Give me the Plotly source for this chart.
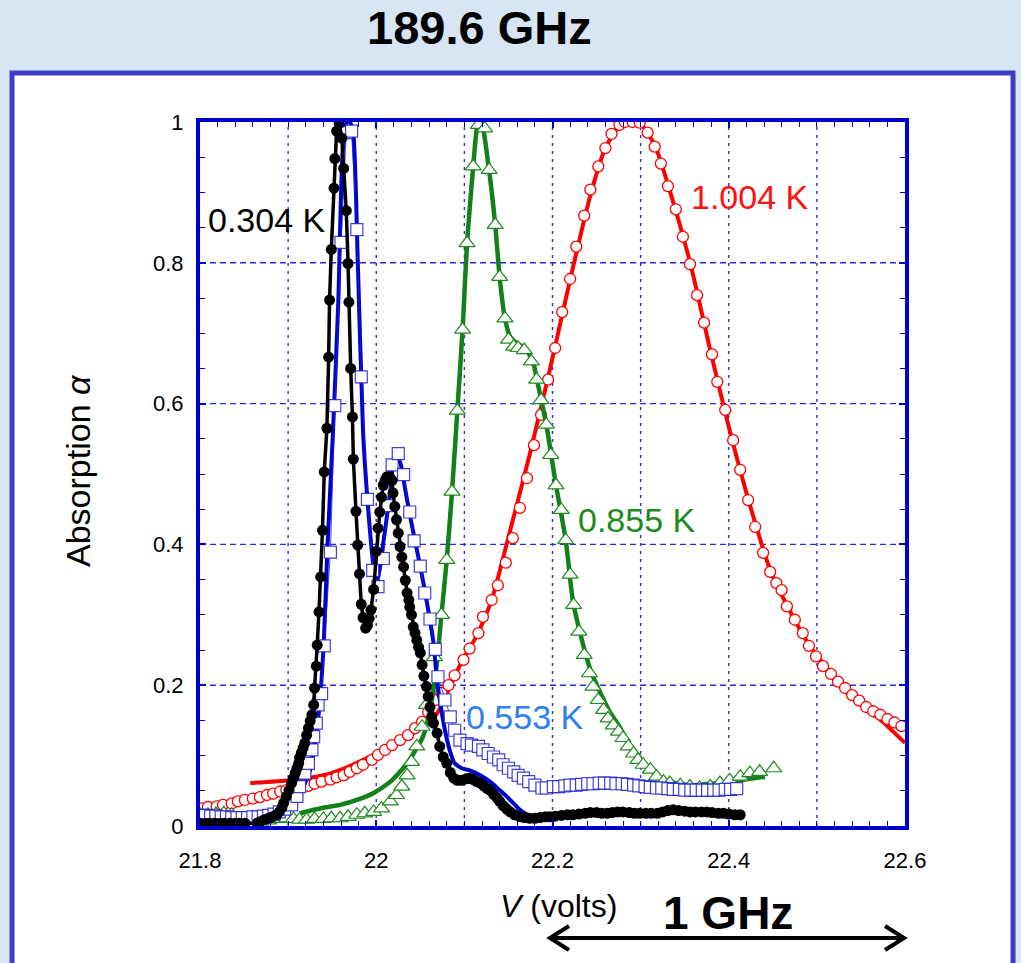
import plotly.graph_objects as go

# ---------------- data (V in volts, alpha) ----------------
# 0.304 K (black, filled circles)
black_v = [21.800, 21.806, 21.811, 21.817, 21.823, 21.828, 21.834, 21.840, 21.845, 21.851,
           21.865, 21.868, 21.873, 21.878, 21.882, 21.887, 21.890, 21.893, 21.895, 21.898,
           21.901, 21.904, 21.906, 21.908, 21.910, 21.912, 21.913, 21.915, 21.917, 21.919,
           21.921, 21.923, 21.925, 21.927, 21.929, 21.930, 21.932, 21.933, 21.935, 21.937,
           21.939, 21.941, 21.944, 21.946, 21.947, 21.949, 21.952, 21.953, 21.955, 21.958,
           21.961, 21.963, 21.966, 21.968, 21.969, 21.971, 21.973, 21.974, 21.977, 21.979,
           21.981, 21.983, 21.985, 21.988, 21.990, 21.992, 21.994, 21.997, 22.000, 22.002,
           22.004, 22.006, 22.008, 22.010, 22.012, 22.015, 22.018, 22.019, 22.021, 22.023,
           22.025, 22.027, 22.029, 22.031, 22.033, 22.035, 22.037, 22.038, 22.040, 22.042,
           22.044, 22.046, 22.048, 22.050, 22.052, 22.054, 22.057, 22.059, 22.061, 22.063,
           22.065, 22.069, 22.072, 22.076, 22.080, 22.084, 22.088, 22.092, 22.097, 22.102,
           22.106, 22.110, 22.114, 22.118, 22.122, 22.126, 22.129, 22.133, 22.137, 22.140,
           22.144, 22.148, 22.152, 22.157, 22.163, 22.168, 22.174, 22.180, 22.186, 22.192,
           22.197, 22.203, 22.210, 22.217, 22.223, 22.230, 22.237, 22.243, 22.250, 22.256,
           22.262, 22.268, 22.274, 22.280, 22.287, 22.293, 22.299, 22.306, 22.312, 22.319,
           22.325, 22.331, 22.337, 22.343, 22.350, 22.356, 22.362, 22.369, 22.375, 22.381,
           22.388, 22.394, 22.400, 22.407, 22.413]
black_a = [0.004, 0.004, 0.004, 0.004, 0.004, 0.004, 0.004, 0.004, 0.004, 0.004,
           0.004, 0.006, 0.009, 0.011, 0.013, 0.016, 0.020, 0.026, 0.033, 0.042,
           0.051, 0.061, 0.068, 0.075, 0.082, 0.089, 0.097, 0.104, 0.111, 0.118,
           0.129, 0.139, 0.149, 0.158, 0.172, 0.196, 0.227, 0.257, 0.304, 0.354,
           0.420, 0.503, 0.565, 0.666, 0.747, 0.819, 0.906, 0.948, 0.987, 0.998,
           0.977, 0.934, 0.874, 0.799, 0.744, 0.650, 0.581, 0.521, 0.447, 0.399,
           0.358, 0.315, 0.296, 0.281, 0.285, 0.295, 0.307, 0.336, 0.390, 0.423,
           0.446, 0.467, 0.484, 0.491, 0.496, 0.496, 0.491, 0.473, 0.454, 0.435,
           0.416, 0.397, 0.382, 0.368, 0.349, 0.331, 0.321, 0.311, 0.300, 0.283,
           0.274, 0.264, 0.254, 0.246, 0.229, 0.213, 0.198, 0.184, 0.169, 0.155,
           0.146, 0.132, 0.113, 0.098, 0.089, 0.076, 0.068, 0.065, 0.065, 0.067,
           0.068, 0.066, 0.063, 0.061, 0.057, 0.053, 0.051, 0.045, 0.040, 0.035,
           0.029, 0.024, 0.020, 0.016, 0.013, 0.012, 0.011, 0.011, 0.012, 0.013,
           0.013, 0.014, 0.015, 0.016, 0.016, 0.017, 0.018, 0.019, 0.019, 0.018,
           0.018, 0.019, 0.020, 0.020, 0.019, 0.018, 0.018, 0.018, 0.018, 0.018,
           0.020, 0.022, 0.023, 0.022, 0.021, 0.020, 0.020, 0.020, 0.020, 0.019,
           0.018, 0.018, 0.017, 0.016, 0.016]

# 0.553 K (blue, open squares) - data
blue_v = [21.800, 21.806, 21.812, 21.818, 21.824, 21.830, 21.836, 21.842, 21.848, 21.854,
          21.860, 21.866, 21.872, 21.878, 21.884, 21.890, 21.896, 21.904, 21.910, 21.913,
          21.919, 21.923, 21.927, 21.929, 21.932, 21.934, 21.938, 21.941, 21.948, 21.953,
          21.960, 21.966, 21.972, 21.978, 21.983, 21.990, 21.996, 22.002, 22.008, 22.013,
          22.018, 22.025, 22.031, 22.038, 22.043, 22.050, 22.055, 22.061, 22.067, 22.070,
          22.078, 22.084, 22.089, 22.095, 22.103, 22.108, 22.116, 22.121, 22.127, 22.133,
          22.139, 22.144, 22.150, 22.156, 22.161, 22.167, 22.173, 22.180, 22.188, 22.193,
          22.201, 22.207, 22.214, 22.220, 22.227, 22.233, 22.240, 22.246, 22.253, 22.259,
          22.266, 22.272, 22.279, 22.285, 22.292, 22.298, 22.305, 22.311, 22.318, 22.324,
          22.331, 22.337, 22.344, 22.350, 22.357, 22.363, 22.370, 22.376, 22.383, 22.389,
          22.396, 22.402, 22.409]
blue_a = [0.015, 0.015, 0.014, 0.014, 0.013, 0.013, 0.012, 0.012, 0.012, 0.012,
          0.013, 0.013, 0.014, 0.015, 0.017, 0.020, 0.024, 0.030, 0.042, 0.056,
          0.075, 0.089, 0.108, 0.127, 0.146, 0.172, 0.188, 0.256, 0.389, 0.597,
          0.829, 0.985, 0.987, 0.847, 0.638, 0.464, 0.363, 0.340, 0.380, 0.455,
          0.513, 0.529, 0.499, 0.446, 0.405, 0.369, 0.331, 0.294, 0.251, 0.212,
          0.179, 0.155, 0.136, 0.122, 0.117, 0.115, 0.113, 0.108, 0.103, 0.098,
          0.094, 0.087, 0.082, 0.077, 0.072, 0.068, 0.063, 0.058, 0.054, 0.054,
          0.056, 0.056, 0.057, 0.058, 0.058, 0.059, 0.060, 0.060, 0.061, 0.061,
          0.061, 0.060, 0.060, 0.059, 0.058, 0.057, 0.056, 0.055, 0.054, 0.054,
          0.053, 0.052, 0.052, 0.051, 0.051, 0.051, 0.051, 0.051, 0.051, 0.051,
          0.052, 0.052, 0.053]
# 0.553 K fit
blue_fit_v = [21.879, 21.902, 21.913, 21.925, 21.934, 21.940, 21.945, 21.951, 21.957, 21.962,
              21.967, 21.970, 21.974, 21.979, 21.985, 21.990, 21.997, 22.001, 22.004, 22.010,
              22.016, 22.021, 22.027, 22.033, 22.040, 22.050, 22.057, 22.065, 22.069, 22.078,
              22.084, 22.089, 22.097, 22.106, 22.118, 22.129, 22.140, 22.152, 22.163, 22.172,
              22.186]
blue_fit_a = [0.011, 0.023, 0.044, 0.080, 0.151, 0.250, 0.406, 0.562, 0.747, 0.960,
              1.000, 1.000, 0.982, 0.804, 0.562, 0.464, 0.368, 0.349, 0.368, 0.420,
              0.477, 0.525, 0.517, 0.477, 0.430, 0.368, 0.321, 0.260, 0.207, 0.136,
              0.105, 0.089, 0.082, 0.079, 0.072, 0.063, 0.051, 0.037, 0.023, 0.016,
              0.011]

# 0.855 K (green, open triangles) - data
green_v = [21.800, 21.809, 21.818, 21.827, 21.836, 21.845, 21.852, 21.860, 21.869, 21.878,
           21.888, 21.898, 21.906, 21.913, 21.921, 21.930, 21.940, 21.949, 21.959, 21.968,
           21.978, 21.987, 21.997, 22.006, 22.016, 22.023, 22.029, 22.035, 22.040, 22.046,
           22.052, 22.057, 22.066, 22.074, 22.080, 22.086, 22.092, 22.098, 22.103, 22.110,
           22.116, 22.123, 22.128, 22.135, 22.140, 22.146, 22.150, 22.156, 22.161, 22.168,
           22.176, 22.182, 22.187, 22.193, 22.198, 22.204, 22.210, 22.215, 22.220, 22.224,
           22.230, 22.236, 22.242, 22.246, 22.252, 22.258, 22.263, 22.269, 22.275, 22.280,
           22.286, 22.292, 22.297, 22.303, 22.311, 22.318, 22.326, 22.333, 22.345, 22.356,
           22.367, 22.379, 22.390, 22.401, 22.413, 22.424, 22.435, 22.451]
green_a = [0.016, 0.016, 0.017, 0.018, 0.016, 0.006, 0.001, 0.002, 0.005, 0.008,
           0.010, 0.011, 0.010, 0.009, 0.009, 0.010, 0.010, 0.011, 0.011, 0.013,
           0.016, 0.018, 0.020, 0.025, 0.035, 0.044, 0.056, 0.072, 0.091, 0.113,
           0.141, 0.172, 0.240, 0.300, 0.378, 0.475, 0.590, 0.705, 0.828, 0.937,
           0.996, 0.991, 0.932, 0.854, 0.780, 0.721, 0.691, 0.681, 0.679, 0.676,
           0.660, 0.634, 0.605, 0.570, 0.527, 0.484, 0.449, 0.406, 0.357, 0.314,
           0.276, 0.243, 0.217, 0.198, 0.179, 0.165, 0.153, 0.143, 0.134, 0.125,
           0.113, 0.103, 0.094, 0.087, 0.080, 0.070, 0.063, 0.061, 0.058, 0.056,
           0.054, 0.056, 0.061, 0.065, 0.070, 0.075, 0.077, 0.082]
# 0.855 K fit
green_fit_v = [21.913, 21.940, 21.959, 21.978, 21.997, 22.016, 22.035, 22.053, 22.061, 22.068,
               22.074, 22.080, 22.086, 22.092, 22.098, 22.103, 22.110, 22.114, 22.117, 22.120,
               22.128, 22.135, 22.140, 22.146, 22.152, 22.159, 22.165, 22.172, 22.178, 22.182,
               22.193, 22.204, 22.215, 22.223, 22.231, 22.243, 22.254, 22.265, 22.277, 22.288,
               22.299, 22.311, 22.322, 22.333, 22.356, 22.379, 22.401, 22.424, 22.441]
green_fit_a = [0.018, 0.026, 0.030, 0.037, 0.047, 0.063, 0.089, 0.127, 0.165, 0.222,
               0.300, 0.378, 0.475, 0.590, 0.705, 0.828, 0.937, 0.989, 1.000, 0.997,
               0.932, 0.854, 0.780, 0.721, 0.695, 0.686, 0.682, 0.673, 0.659, 0.636,
               0.570, 0.484, 0.406, 0.321, 0.276, 0.222, 0.190, 0.162, 0.139, 0.111,
               0.094, 0.080, 0.068, 0.063, 0.058, 0.060, 0.063, 0.067, 0.070]

# 1.004 K (red, open circles) - data
red_v = [21.802, 21.809, 21.819, 21.826, 21.836, 21.843, 21.851, 21.860, 21.868, 21.876,
         21.883, 21.891, 21.898, 21.906, 21.913, 21.923, 21.930, 21.938, 21.948, 21.955,
         21.963, 21.970, 21.978, 21.985, 21.995, 22.002, 22.010, 22.018, 22.027, 22.036,
         22.044, 22.052, 22.059, 22.067, 22.074, 22.082, 22.089, 22.099, 22.106, 22.116,
         22.121, 22.131, 22.138, 22.147, 22.155, 22.163, 22.171, 22.179, 22.187, 22.195,
         22.203, 22.211, 22.220, 22.227, 22.236, 22.243, 22.252, 22.260, 22.267, 22.276,
         22.282, 22.291, 22.299, 22.308, 22.316, 22.323, 22.331, 22.340, 22.348, 22.356,
         22.364, 22.372, 22.381, 22.387, 22.396, 22.405, 22.413, 22.422, 22.430, 22.439,
         22.447, 22.454, 22.460, 22.466, 22.475, 22.484, 22.491, 22.499, 22.507, 22.516,
         22.524, 22.532, 22.540, 22.548, 22.556, 22.564, 22.572, 22.580, 22.588, 22.596]
red_a = [0.025, 0.027, 0.028, 0.030, 0.032, 0.035, 0.037, 0.039, 0.041, 0.044,
         0.046, 0.049, 0.051, 0.054, 0.055, 0.057, 0.060, 0.063, 0.066, 0.069,
         0.072, 0.077, 0.082, 0.087, 0.094, 0.101, 0.108, 0.115, 0.122, 0.129,
         0.139, 0.148, 0.162, 0.179, 0.189, 0.200, 0.214, 0.236, 0.252, 0.274,
         0.297, 0.321, 0.342, 0.374, 0.409, 0.452, 0.494, 0.541, 0.584, 0.634,
         0.679, 0.730, 0.777, 0.823, 0.867, 0.904, 0.937, 0.963, 0.983, 0.996,
         1.000, 1.000, 0.999, 0.985, 0.965, 0.941, 0.909, 0.876, 0.837, 0.798,
         0.754, 0.715, 0.670, 0.631, 0.591, 0.548, 0.506, 0.463, 0.425, 0.388,
         0.361, 0.345, 0.335, 0.312, 0.293, 0.274, 0.256, 0.241, 0.227, 0.216,
         0.205, 0.196, 0.186, 0.178, 0.169, 0.163, 0.158, 0.152, 0.147, 0.142]
# 1.004 K fit
red_fit_v = [21.857, 21.902, 21.940, 21.966, 21.997, 22.023, 22.053, 22.069, 22.087, 22.098,
             22.114, 22.131, 22.152, 22.174, 22.197, 22.220, 22.243, 22.260, 22.277, 22.288,
             22.299, 22.316, 22.333, 22.356, 22.379, 22.401, 22.424, 22.447, 22.470, 22.492,
             22.515, 22.534, 22.552, 22.572, 22.600]
red_fit_a = [0.061, 0.065, 0.072, 0.083, 0.101, 0.117, 0.141, 0.160, 0.207, 0.236,
             0.270, 0.321, 0.420, 0.527, 0.648, 0.776, 0.896, 0.963, 0.996, 1.000,
             0.999, 0.967, 0.903, 0.801, 0.676, 0.562, 0.456, 0.364, 0.304, 0.256,
             0.219, 0.189, 0.169, 0.151, 0.118]

x_ticks = [21.8, 22.0, 22.2, 22.4, 22.6]
x_tick_text = ["21.8", "22", "22.2", "22.4", "22.6"]
y_ticks = [0, 0.2, 0.4, 0.6, 0.8, 1]
y_tick_text = ["0", "0.2", "0.4", "0.6", "0.8", "1"]
x_grid = [21.9, 22.0, 22.1, 22.2, 22.3, 22.4, 22.5]
y_grid = [0.2, 0.4, 0.6, 0.8]

# ---------------- styling / layout helpers ----------------
W, H = 1021, 963
L, R, T, B = 200, 116, 122, 137
FONT = "Liberation Sans, Arial, Helvetica, sans-serif"
AXBLUE = "#0000cc"
GRIDBLUE = "#2b2bdd"


def px(x):
    return (x - L) / (W - L - R)


def py(y):
    return (H - B - y) / (H - T - B)


fig = go.Figure()

# fits and data (drawn from warm to cold so black ends on top)
fig.add_trace(go.Scatter(x=red_fit_v, y=red_fit_a, mode="lines",
                         line=dict(color="#ff0000", width=4, shape="spline", smoothing=0.6),
                         hoverinfo="skip", showlegend=False))
fig.add_trace(go.Scatter(x=red_v, y=red_a, mode="markers", name="1.004 K",
                         marker=dict(symbol="circle", size=11, color="white",
                                     line=dict(color="#ff0000", width=1.3)),
                         showlegend=False))
fig.add_trace(go.Scatter(x=green_fit_v, y=green_fit_a, mode="lines",
                         line=dict(color="#13801a", width=4.5, shape="spline", smoothing=0.6),
                         hoverinfo="skip", showlegend=False))
fig.add_trace(go.Scatter(x=green_v, y=green_a, mode="markers", name="0.855 K",
                         marker=dict(symbol="triangle-up", size=14, color="white",
                                     line=dict(color="#1e8a1e", width=1.2)),
                         showlegend=False))
fig.add_trace(go.Scatter(x=blue_fit_v, y=blue_fit_a, mode="lines",
                         line=dict(color="#0000cc", width=4, shape="spline", smoothing=0.6),
                         hoverinfo="skip", showlegend=False))
fig.add_trace(go.Scatter(x=blue_v, y=blue_a, mode="lines+markers", name="0.553 K",
                         line=dict(color="rgba(30,30,210,0.8)", width=1),
                         marker=dict(symbol="square", size=12, color="white",
                                     line=dict(color="rgba(30,30,210,0.85)", width=1.2)),
                         showlegend=False))
fig.add_trace(go.Scatter(x=black_v, y=black_a, mode="lines+markers", name="0.304 K",
                         line=dict(color="black", width=3.5),
                         marker=dict(symbol="circle", size=11, color="black"),
                         showlegend=False))

shapes = []
# white panel with blue frame
shapes.append(dict(type="rect", xref="paper", yref="paper",
                   x0=px(12), x1=px(1013), y0=py(985), y1=py(73),
                   line=dict(color="#3c3cc8", width=5), fillcolor="white", layer="below"))
# grid lines
for g in x_grid:
    shapes.append(dict(type="line", xref="x", yref="y", x0=g, x1=g, y0=0, y1=1,
                       line=dict(color=GRIDBLUE, width=1.4, dash="3px,5px"), layer="below"))
for g in y_grid:
    shapes.append(dict(type="line", xref="x", yref="y", x0=21.8, x1=22.6, y0=g, y1=g,
                       line=dict(color=GRIDBLUE, width=1.4, dash="6px,4px"), layer="below"))
# 1 GHz double arrow
ay = 938
shapes.append(dict(type="line", xref="paper", yref="paper",
                   x0=px(551), x1=px(903), y0=py(ay), y1=py(ay),
                   line=dict(color="black", width=4)))
shapes.append(dict(type="path", xref="paper", yref="paper",
                   path=f"M {px(569)},{py(ay-12)} L {px(550)},{py(ay)} L {px(569)},{py(ay+12)}",
                   line=dict(color="black", width=4)))
shapes.append(dict(type="path", xref="paper", yref="paper",
                   path=f"M {px(885)},{py(ay-12)} L {px(904)},{py(ay)} L {px(885)},{py(ay+12)}",
                   line=dict(color="black", width=4)))

annotations = [
    dict(text="<b>189.6 GHz</b>", xref="paper", yref="paper", x=px(479), y=py(28),
         showarrow=False, font=dict(family=FONT, size=47, color="black"),
         xanchor="center", yanchor="middle"),
    dict(text="<b>1 GHz</b>", xref="paper", yref="paper", x=px(728), y=py(913),
         showarrow=False, font=dict(family=FONT, size=46, color="black"),
         xanchor="center", yanchor="middle"),
    dict(text="<i>V</i> (volts)", xref="paper", yref="paper", x=px(558), y=py(906),
         showarrow=False, font=dict(family=FONT, size=32, color="black"),
         xanchor="center", yanchor="middle"),
    dict(text="Absorption <i>α</i>", xref="paper", yref="paper", x=px(78), y=py(471),
         showarrow=False, textangle=-90, font=dict(family=FONT, size=34, color="black"),
         xanchor="center", yanchor="middle"),
    dict(text="0.304 K", x=21.876, y=0.861, showarrow=False,
         font=dict(family=FONT, size=34, color="black")),
    dict(text="1.004 K", x=22.424, y=0.893, showarrow=False,
         font=dict(family=FONT, size=34, color="#ff1010")),
    dict(text="0.855 K", x=22.296, y=0.435, showarrow=False,
         font=dict(family=FONT, size=34, color="#1e8a1e")),
    dict(text="0.553 K", x=22.169, y=0.155, showarrow=False,
         font=dict(family=FONT, size=34, color="#2f7ff0")),
]

fig.update_layout(
    width=W, height=H,
    margin=dict(l=L, r=R, t=T, b=B, pad=0),
    paper_bgcolor="#d8e5f4",
    plot_bgcolor="white",
    shapes=shapes,
    annotations=annotations,
    showlegend=False,
    xaxis=dict(range=[21.8, 22.6], tickmode="array", tickvals=x_ticks, ticktext=x_tick_text,
               showgrid=False, zeroline=False, showline=True, mirror="ticks",
               linecolor=AXBLUE, linewidth=4,
               ticks="inside", ticklen=6, tickwidth=1.5, tickcolor=AXBLUE,
               minor=dict(dtick=0.02, tick0=21.8, ticks="inside", ticklen=5,
                          tickwidth=1.2, tickcolor=AXBLUE, showgrid=False),
               tickfont=dict(family=FONT, size=22, color="black"),
               ticklabelstandoff=12),
    yaxis=dict(range=[0, 1], tickmode="array", tickvals=y_ticks, ticktext=y_tick_text,
               showgrid=False, zeroline=False, showline=True, mirror="ticks",
               linecolor=AXBLUE, linewidth=4,
               ticks="inside", ticklen=6, tickwidth=1.5, tickcolor=AXBLUE,
               minor=dict(dtick=0.05, tick0=0, ticks="inside", ticklen=5,
                          tickwidth=1.2, tickcolor=AXBLUE, showgrid=False),
               tickfont=dict(family=FONT, size=22, color="black"),
               ticklabelstandoff=8),
)

fig.write_html("out.html")
